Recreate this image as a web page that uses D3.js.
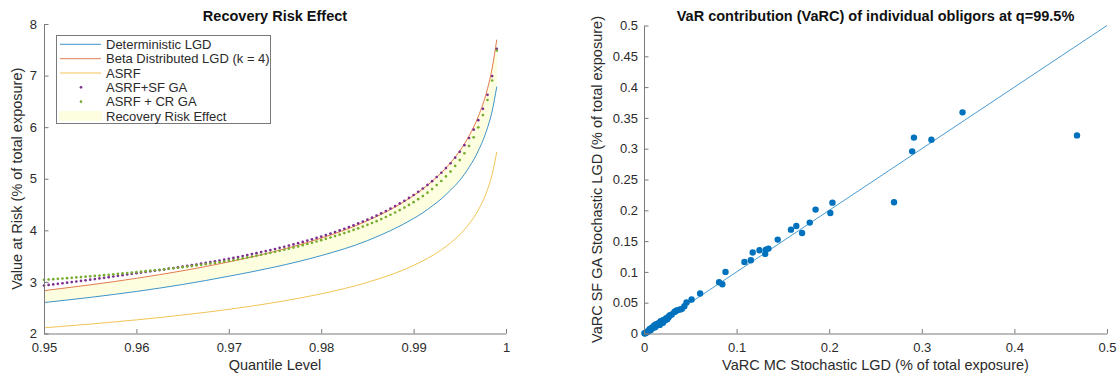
<!DOCTYPE html>
<html>
<head>
<meta charset="utf-8">
<script src="https://cdn.jsdelivr.net/npm/d3@7"></script>
<style>
  html, body { margin: 0; padding: 0; background: #fff; }
  svg { display: block; font-family: "Liberation Sans", Arial, Helvetica, sans-serif; }
</style>
</head>
<body>
<svg id="chart" width="1119" height="376"></svg>
<script>
// ---------------- LEFT CHART DATA ----------------
const qLines = [0.95, 0.955, 0.96, 0.965, 0.97, 0.975, 0.98, 0.985, 0.99, 0.991, 0.992, 0.993, 0.994, 0.995, 0.996, 0.997, 0.998, 0.9985, 0.999];
const deterministicLGD = [2.600, 2.700, 2.815, 2.950, 3.110, 3.290, 3.510, 3.800, 4.230, 4.340, 4.470, 4.610, 4.780, 4.970, 5.220, 5.540, 5.990, 6.310, 6.785];
const betaLGD = [2.830, 2.943, 3.070, 3.216, 3.388, 3.593, 3.849, 4.186, 4.675, 4.804, 4.950, 5.116, 5.310, 5.542, 5.830, 6.206, 6.747, 7.140, 7.696];
const asrf = [2.110, 2.182, 2.264, 2.358, 2.468, 2.602, 2.769, 2.992, 3.319, 3.408, 3.507, 3.622, 3.756, 3.919, 4.123, 4.393, 4.791, 5.086, 5.517];

const qDots = [0.9500,0.9505,0.9510,0.9515,0.9520,0.9525,0.9530,0.9535,0.9540,0.9545,
  0.9550,0.9555,0.9560,0.9565,0.9570,0.9575,0.9580,0.9585,0.9590,0.9595,
  0.9600,0.9605,0.9610,0.9615,0.9620,0.9625,0.9630,0.9635,0.9640,0.9645,
  0.9650,0.9655,0.9660,0.9665,0.9670,0.9675,0.9680,0.9685,0.9690,0.9695,
  0.9700,0.9705,0.9710,0.9715,0.9720,0.9725,0.9730,0.9735,0.9740,0.9745,
  0.9750,0.9755,0.9760,0.9765,0.9770,0.9775,0.9780,0.9785,0.9790,0.9795,
  0.9800,0.9805,0.9810,0.9815,0.9820,0.9825,0.9830,0.9835,0.9840,0.9845,
  0.9850,0.9855,0.9860,0.9865,0.9870,0.9875,0.9880,0.9885,0.9890,0.9895,
  0.9900,0.9905,0.9910,0.9915,0.9920,0.9925,0.9930,0.9935,0.9940,0.9945,
  0.9950,0.9955,0.9960,0.9965,0.9970,0.9975,0.9980,0.9985,0.9990];
const asrfSFGA = [2.930,2.941,2.952,2.963,2.974,2.985,2.997,3.008,3.020,3.031,
  3.043,3.055,3.067,3.079,3.092,3.105,3.118,3.131,3.144,3.157,
  3.170,3.182,3.194,3.206,3.218,3.230,3.243,3.256,3.269,3.282,
  3.296,3.310,3.324,3.338,3.353,3.368,3.384,3.399,3.415,3.431,
  3.448,3.466,3.483,3.502,3.520,3.539,3.558,3.578,3.597,3.618,
  3.638,3.660,3.682,3.705,3.727,3.752,3.776,3.801,3.826,3.853,
  3.879,3.908,3.937,3.967,3.998,4.031,4.064,4.098,4.133,4.169,
  4.206,4.246,4.286,4.330,4.374,4.422,4.470,4.521,4.573,4.628,
  4.685,4.747,4.811,4.881,4.953,5.034,5.116,5.206,5.300,5.408,
  5.522,5.651,5.790,5.951,6.136,6.355,6.627,6.990,7.516];
const asrfCRGA = [3.040,3.047,3.053,3.060,3.066,3.073,3.080,3.087,3.094,3.101,
  3.108,3.116,3.123,3.131,3.139,3.148,3.156,3.165,3.173,3.182,
  3.190,3.199,3.208,3.217,3.226,3.235,3.245,3.255,3.265,3.275,
  3.286,3.297,3.308,3.319,3.331,3.343,3.356,3.368,3.381,3.394,
  3.408,3.424,3.440,3.457,3.474,3.491,3.509,3.527,3.545,3.564,
  3.583,3.603,3.624,3.645,3.666,3.689,3.712,3.735,3.759,3.784,
  3.809,3.835,3.861,3.888,3.916,3.946,3.976,4.007,4.039,4.072,
  4.106,4.142,4.178,4.218,4.258,4.302,4.346,4.393,4.441,4.492,
  4.545,4.604,4.664,4.731,4.800,4.877,4.956,5.046,5.140,5.248,
  5.362,5.494,5.635,5.804,5.996,6.235,6.527,6.905,7.486];

const leftXTicks = [0.95, 0.96, 0.97, 0.98, 0.99, 1];
const leftXTickLabels = ["0.95", "0.96", "0.97", "0.98", "0.99", "1"];
const leftYTicks = [2, 3, 4, 5, 6, 7, 8];
const legendLabels = ["Deterministic LGD", "Beta Distributed LGD (k = 4)", "ASRF", "ASRF+SF GA", "ASRF + CR GA", "Recovery Risk Effect"];

// ---------------- RIGHT CHART DATA ----------------
const varcMC = [0.344,0.4676,0.2915,0.2896,0.3104,0.270,0.2035,0.2012,0.1853,0.179,
  0.1645,0.1587,0.1707,0.1444,0.1344,0.1309,0.1317,0.1247,0.1174,0.1154,
  0.1085,0.088,0.0811,0.0846,0.0606,0.0514,0.0459,0.0436,0.039,0.0359,
  0.0328,0.0282,0.0263,0.0228,0.0193,0.0205,0.0147,0.012,0.0089,0.007,
  0.0042,0.0023,0.001,0.003,0.005,0.006,0.008,0.010,0.011,0.013,
  0.016,0.018,0.021,0.024,0.027,0.030,0.034,0.041,0.0005,0.002,
  0.017,0.025,0.012];
const varcSF = [0.359,0.3216,0.318,0.2957,0.3146,0.213,0.2124,0.1957,0.2011,0.18,
  0.1746,0.1686,0.1632,0.1524,0.1378,0.1292,0.1362,0.1351,0.1314,0.1189,
  0.1162,0.1,0.0832,0.08,0.0649,0.0551,0.0503,0.0443,0.0389,0.0378,
  0.0351,0.0297,0.0259,0.0216,0.0205,0.0173,0.0135,0.0119,0.0081,0.0054,
  0.0027,0.0011,0.0002,0.003,0.004,0.007,0.009,0.011,0.013,0.015,
  0.017,0.020,0.022,0.025,0.028,0.031,0.036,0.040,0.0005,0.0015,
  0.014,0.023,0.010];
const diagonal = [0, 0.5];
const rightXTicks = [0, 0.1, 0.2, 0.3, 0.4, 0.5];
const rightXTickLabels = ["0", "0.1", "0.2", "0.3", "0.4", "0.5"];
const rightYTicks = [0, 0.05, 0.1, 0.15, 0.2, 0.25, 0.3, 0.35, 0.4, 0.45, 0.5];
const rightYTickLabels = ["0", "0.05", "0.1", "0.15", "0.2", "0.25", "0.3", "0.35", "0.4", "0.45", "0.5"];

// ---------------- STYLE ----------------
const C = { blue: "#0072BD", red: "#D95319", yellow: "#EDB120", purple: "#7E2F8E", green: "#77AC30", fill: "#fdfddf" };
const axisColor = "#7a7a7a", textColor = "#2b2b2b";

const svg = d3.select("#chart");

function styleAxis(g) {
  g.selectAll("path.domain").attr("stroke", axisColor).attr("stroke-width", 1);
  g.selectAll(".tick line").attr("stroke", axisColor).attr("stroke-width", 1);
  g.selectAll(".tick text").attr("fill", textColor).attr("font-size", "13px").attr("font-family", "Liberation Sans, Arial, sans-serif");
}

// ---------------- LEFT CHART ----------------
const xL = d3.scaleLinear().domain([0.95, 1]).range([44, 506]);
const yL = d3.scaleLinear().domain([2, 8]).range([333.5, 24]);

const lineRows = qLines.map((q, i) => ({ q, det: deterministicLGD[i], beta: betaLGD[i], asrf: asrf[i] }));

svg.append("path")
  .datum(lineRows)
  .attr("fill", C.fill)
  .attr("stroke", "none")
  .attr("d", d3.area().curve(d3.curveMonotoneX).x(d => xL(d.q)).y0(d => yL(d.det)).y1(d => yL(d.beta)));

const mkLine = key => d3.line().curve(d3.curveMonotoneX).x(d => xL(d.q)).y(d => yL(d[key]));
[["det", C.blue], ["beta", C.red], ["asrf", C.yellow]].forEach(([k, col]) => {
  svg.append("path").datum(lineRows).attr("fill", "none").attr("stroke", col)
    .attr("stroke-width", 0.9).attr("stroke-opacity", 0.85).attr("d", mkLine(k));
});

svg.append("g").selectAll("circle").data(qDots.map((q, i) => ({ q, v: asrfSFGA[i] }))).join("circle")
  .attr("cx", d => xL(d.q)).attr("cy", d => yL(d.v)).attr("r", 1.35).attr("fill", C.purple);
svg.append("g").selectAll("circle").data(qDots.map((q, i) => ({ q, v: asrfCRGA[i] }))).join("circle")
  .attr("cx", d => xL(d.q)).attr("cy", d => yL(d.v)).attr("r", 1.35).attr("fill", C.green);

const gxL = svg.append("g").attr("transform", `translate(0,${yL(2)})`)
  .call(d3.axisBottom(xL).tickValues(leftXTicks).tickFormat((d, i) => leftXTickLabels[i]).tickSizeInner(-4.5).tickSizeOuter(0).tickPadding(9));
styleAxis(gxL);
const gyL = svg.append("g").attr("transform", `translate(${xL(0.95)},0)`)
  .call(d3.axisLeft(yL).tickValues(leftYTicks).tickFormat(d3.format("d")).tickSizeInner(-4.5).tickSizeOuter(0).tickPadding(7));
styleAxis(gyL);

svg.append("text").attr("x", (xL(0.95) + xL(1)) / 2).attr("y", 21).attr("text-anchor", "middle")
  .attr("font-weight", "bold").attr("font-size", "14.5px").attr("fill", "#111").text("Recovery Risk Effect");
svg.append("text").attr("x", (xL(0.95) + xL(1)) / 2).attr("y", 370).attr("text-anchor", "middle")
  .attr("font-size", "14.5px").attr("fill", textColor).text("Quantile Level");
svg.append("text").attr("transform", `translate(22,${(yL(2) + yL(8)) / 2}) rotate(-90)`).attr("text-anchor", "middle")
  .attr("font-size", "14.5px").attr("fill", textColor).text("Value at Risk (% of total exposure)");

// legend
const lg = svg.append("g");
lg.append("rect").attr("x", 56.5).attr("y", 35.5).attr("width", 214).attr("height", 88)
  .attr("fill", "#fff").attr("stroke", axisColor).attr("stroke-width", 1);
const rowY = [44.3, 58.7, 73, 87.3, 101.7, 116];
legendLabels.forEach((lab, i) => {
  const y = rowY[i];
  if (i < 3) {
    lg.append("line").attr("x1", 60).attr("x2", 101).attr("y1", y).attr("y2", y)
      .attr("stroke", [C.blue, C.red, C.yellow][i]).attr("stroke-width", 0.9).attr("stroke-opacity", 0.85);
  } else if (i < 5) {
    lg.append("circle").attr("cx", 81).attr("cy", y).attr("r", 1.35).attr("fill", [C.purple, C.green][i - 3]);
  } else {
    lg.append("rect").attr("x", 59).attr("y", y - 5).attr("width", 43).attr("height", 10).attr("fill", C.fill);
  }
  lg.append("text").attr("x", 106).attr("y", y + 4.5).attr("font-size", "13px").attr("fill", textColor).text(lab);
});

// ---------------- RIGHT CHART ----------------
const xR = d3.scaleLinear().domain([0, 0.5]).range([644, 1107]);
const yR = d3.scaleLinear().domain([0, 0.5]).range([333.5, 25.5]);

svg.append("line").attr("x1", xR(diagonal[0])).attr("y1", yR(diagonal[0])).attr("x2", xR(diagonal[1])).attr("y2", yR(diagonal[1]))
  .attr("stroke", C.blue).attr("stroke-width", 0.9).attr("stroke-opacity", 0.8);

svg.append("g").selectAll("circle").data(varcMC.map((x, i) => ({ x, y: varcSF[i] }))).join("circle")
  .attr("cx", d => xR(d.x)).attr("cy", d => yR(d.y)).attr("r", 3.2).attr("fill", C.blue);

const gxR = svg.append("g").attr("transform", `translate(0,${yR(0)})`)
  .call(d3.axisBottom(xR).tickValues(rightXTicks).tickFormat((d, i) => rightXTickLabels[i]).tickSizeInner(-4.5).tickSizeOuter(0).tickPadding(9));
styleAxis(gxR);
const gyR = svg.append("g").attr("transform", `translate(${xR(0)},0)`)
  .call(d3.axisLeft(yR).tickValues(rightYTicks).tickFormat((d, i) => rightYTickLabels[i]).tickSizeInner(-4.5).tickSizeOuter(0).tickPadding(6));
styleAxis(gyR);

svg.append("text").attr("x", (xR(0) + xR(0.5)) / 2).attr("y", 21).attr("text-anchor", "middle")
  .attr("font-weight", "bold").attr("font-size", "14.5px").attr("fill", "#111").text("VaR contribution (VaRC) of individual obligors at q=99.5%");
svg.append("text").attr("x", (xR(0) + xR(0.5)) / 2).attr("y", 370).attr("text-anchor", "middle")
  .attr("font-size", "14.5px").attr("fill", textColor).text("VaRC MC Stochastic LGD (% of total exposure)");
svg.append("text").attr("transform", `translate(602,${(yR(0) + yR(0.5)) / 2}) rotate(-90)`).attr("text-anchor", "middle")
  .attr("font-size", "14.5px").attr("fill", textColor).text("VaRC SF GA Stochastic LGD (% of total exposure)");
</script>
</body>
</html>
